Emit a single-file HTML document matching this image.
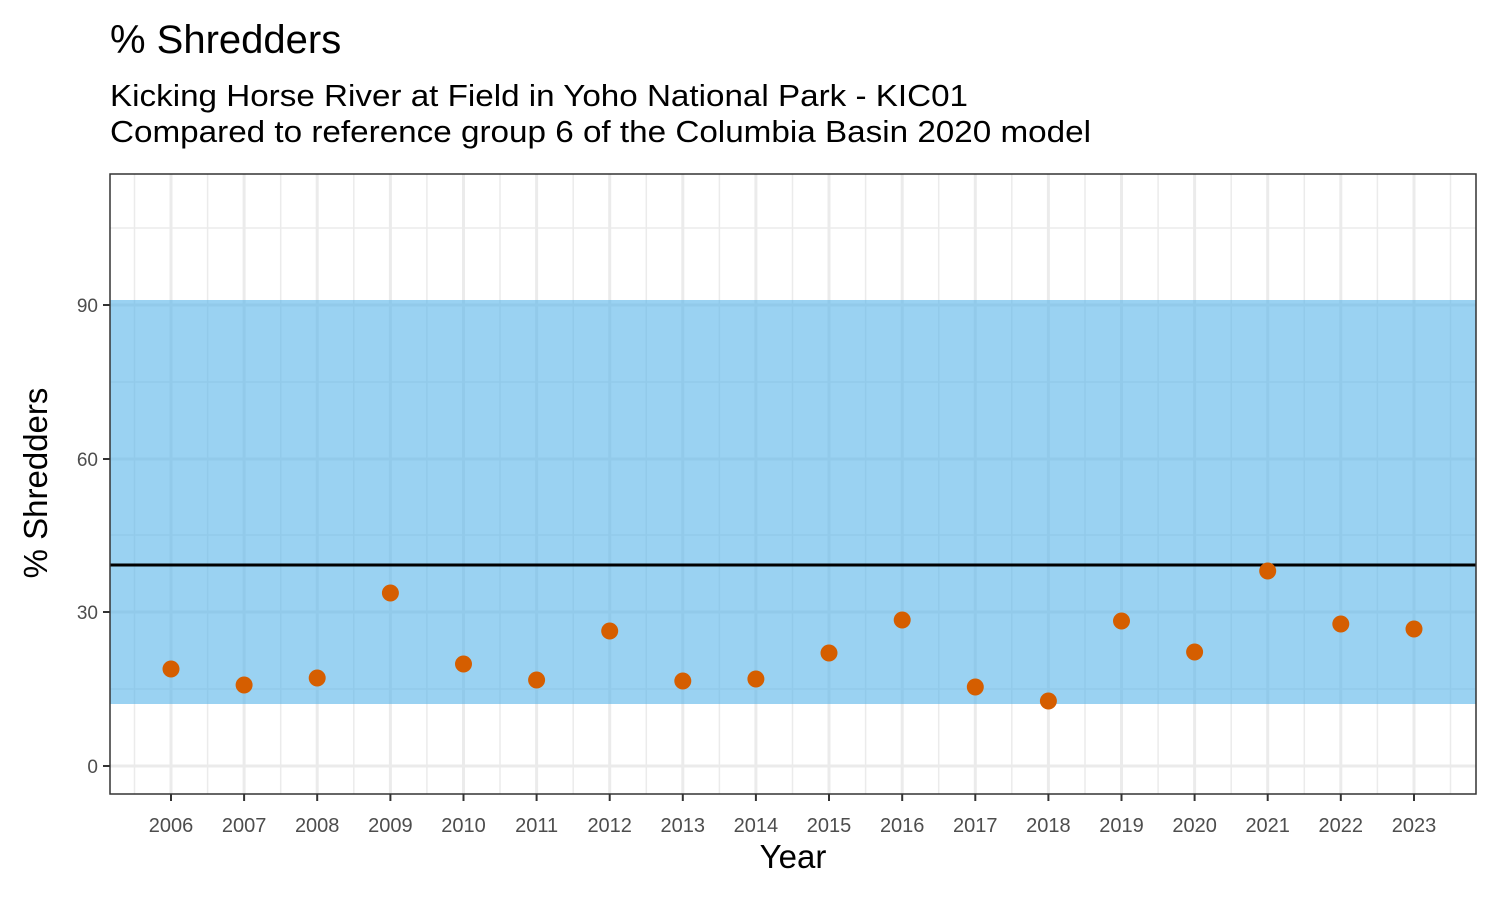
<!DOCTYPE html>
<html><head><style>body{margin:0;background:#fff}svg{display:block}</style></head><body>
<svg width="1500" height="900" xmlns="http://www.w3.org/2000/svg" font-family="Liberation Sans, Arial, sans-serif">
<rect width="1500" height="900" fill="#fff"/>
<text x="110" y="53" font-size="40" fill="#000">% Shredders</text>
<text x="110" y="106" font-size="31" textLength="858" lengthAdjust="spacingAndGlyphs" fill="#000">Kicking Horse River at Field in Yoho National Park - KIC01</text>
<text x="110" y="142" font-size="31" textLength="981" lengthAdjust="spacingAndGlyphs" fill="#000">Compared to reference group 6 of the Columbia Basin 2020 model</text>
<g id="grid">
<g stroke="#ebebeb" stroke-width="1.5">
<line x1="110" x2="1476" y1="689" y2="689"/><line x1="110" x2="1476" y1="535" y2="535"/><line x1="110" x2="1476" y1="382" y2="382"/><line x1="110" x2="1476" y1="228" y2="228"/>
<line y1="174" y2="794" x1="134.5" x2="134.5"/><line y1="174" y2="794" x1="207.6" x2="207.6"/><line y1="174" y2="794" x1="280.7" x2="280.7"/><line y1="174" y2="794" x1="353.8" x2="353.8"/><line y1="174" y2="794" x1="426.9" x2="426.9"/><line y1="174" y2="794" x1="500" x2="500"/><line y1="174" y2="794" x1="573.2" x2="573.2"/><line y1="174" y2="794" x1="646.3" x2="646.3"/><line y1="174" y2="794" x1="719.4" x2="719.4"/><line y1="174" y2="794" x1="792.5" x2="792.5"/><line y1="174" y2="794" x1="865.6" x2="865.6"/><line y1="174" y2="794" x1="938.7" x2="938.7"/><line y1="174" y2="794" x1="1011.8" x2="1011.8"/><line y1="174" y2="794" x1="1085" x2="1085"/><line y1="174" y2="794" x1="1158.1" x2="1158.1"/><line y1="174" y2="794" x1="1231.2" x2="1231.2"/><line y1="174" y2="794" x1="1304.3" x2="1304.3"/><line y1="174" y2="794" x1="1377.4" x2="1377.4"/><line y1="174" y2="794" x1="1450.5" x2="1450.5"/>
</g>
<g stroke="#ebebeb" stroke-width="3">
<line x1="110" x2="1476" y1="766" y2="766"/><line x1="110" x2="1476" y1="612" y2="612"/><line x1="110" x2="1476" y1="459" y2="459"/><line x1="110" x2="1476" y1="305" y2="305"/>
<line y1="174" y2="794" x1="171" x2="171"/><line y1="174" y2="794" x1="244.1" x2="244.1"/><line y1="174" y2="794" x1="317.2" x2="317.2"/><line y1="174" y2="794" x1="390.4" x2="390.4"/><line y1="174" y2="794" x1="463.5" x2="463.5"/><line y1="174" y2="794" x1="536.6" x2="536.6"/><line y1="174" y2="794" x1="609.7" x2="609.7"/><line y1="174" y2="794" x1="682.8" x2="682.8"/><line y1="174" y2="794" x1="755.9" x2="755.9"/><line y1="174" y2="794" x1="829" x2="829"/><line y1="174" y2="794" x1="902.2" x2="902.2"/><line y1="174" y2="794" x1="975.3" x2="975.3"/><line y1="174" y2="794" x1="1048.4" x2="1048.4"/><line y1="174" y2="794" x1="1121.5" x2="1121.5"/><line y1="174" y2="794" x1="1194.6" x2="1194.6"/><line y1="174" y2="794" x1="1267.7" x2="1267.7"/><line y1="174" y2="794" x1="1340.8" x2="1340.8"/><line y1="174" y2="794" x1="1414" x2="1414"/>
</g>
</g>
<rect x="110" y="300" width="1366" height="404" fill="#56B4E9" fill-opacity="0.6"/>
<line x1="110" x2="1476" y1="565" y2="565" stroke="#000" stroke-width="3"/>
<g fill="#D55E00">
<circle cx="171" cy="669" r="8.5"/><circle cx="244.1" cy="685" r="8.5"/><circle cx="317.2" cy="678" r="8.5"/><circle cx="390.4" cy="593" r="8.5"/><circle cx="463.5" cy="664" r="8.5"/><circle cx="536.6" cy="680" r="8.5"/><circle cx="609.7" cy="631" r="8.5"/><circle cx="682.8" cy="681" r="8.5"/><circle cx="755.9" cy="679" r="8.5"/><circle cx="829" cy="653" r="8.5"/><circle cx="902.2" cy="620" r="8.5"/><circle cx="975.3" cy="687" r="8.5"/><circle cx="1048.4" cy="701" r="8.5"/><circle cx="1121.5" cy="621" r="8.5"/><circle cx="1194.6" cy="652" r="8.5"/><circle cx="1267.7" cy="571" r="8.5"/><circle cx="1340.8" cy="624" r="8.5"/><circle cx="1414" cy="629" r="8.5"/>
</g>
<rect x="110" y="174" width="1366" height="620" fill="none" stroke="#333" stroke-width="1.5"/>
<g stroke="#333" stroke-width="2">
<line x1="103" x2="110" y1="766" y2="766"/><line x1="103" x2="110" y1="612" y2="612"/><line x1="103" x2="110" y1="459" y2="459"/><line x1="103" x2="110" y1="305" y2="305"/>
</g>
<g font-size="19" fill="#4d4d4d" text-anchor="end">
<text x="98" y="773">0</text><text x="98" y="619">30</text><text x="98" y="466">60</text><text x="98" y="312">90</text>
</g>
<g stroke="#333" stroke-width="2">
<line y1="794" y2="801" x1="171" x2="171"/><line y1="794" y2="801" x1="244.1" x2="244.1"/><line y1="794" y2="801" x1="317.2" x2="317.2"/><line y1="794" y2="801" x1="390.4" x2="390.4"/><line y1="794" y2="801" x1="463.5" x2="463.5"/><line y1="794" y2="801" x1="536.6" x2="536.6"/><line y1="794" y2="801" x1="609.7" x2="609.7"/><line y1="794" y2="801" x1="682.8" x2="682.8"/><line y1="794" y2="801" x1="755.9" x2="755.9"/><line y1="794" y2="801" x1="829" x2="829"/><line y1="794" y2="801" x1="902.2" x2="902.2"/><line y1="794" y2="801" x1="975.3" x2="975.3"/><line y1="794" y2="801" x1="1048.4" x2="1048.4"/><line y1="794" y2="801" x1="1121.5" x2="1121.5"/><line y1="794" y2="801" x1="1194.6" x2="1194.6"/><line y1="794" y2="801" x1="1267.7" x2="1267.7"/><line y1="794" y2="801" x1="1340.8" x2="1340.8"/><line y1="794" y2="801" x1="1414" x2="1414"/>
</g>
<g font-size="20" fill="#4d4d4d" text-anchor="middle">
<text x="171" y="832">2006</text><text x="244.1" y="832">2007</text><text x="317.2" y="832">2008</text><text x="390.4" y="832">2009</text><text x="463.5" y="832">2010</text><text x="536.6" y="832">2011</text><text x="609.7" y="832">2012</text><text x="682.8" y="832">2013</text><text x="755.9" y="832">2014</text><text x="829" y="832">2015</text><text x="902.2" y="832">2016</text><text x="975.3" y="832">2017</text><text x="1048.4" y="832">2018</text><text x="1121.5" y="832">2019</text><text x="1194.6" y="832">2020</text><text x="1267.7" y="832">2021</text><text x="1340.8" y="832">2022</text><text x="1414" y="832">2023</text>
</g>
<text x="793" y="868" font-size="33" text-anchor="middle" fill="#000">Year</text>
<text transform="translate(47,483) rotate(-90)" font-size="33" text-anchor="middle" fill="#000">% Shredders</text>
</svg>
</body></html>
